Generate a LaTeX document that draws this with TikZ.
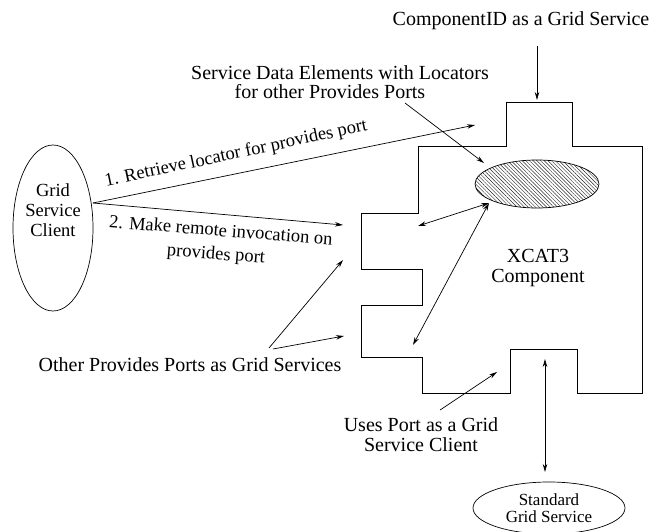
\documentclass[tikz,border=0pt]{standalone}
\usepackage{fontspec}
\setmainfont{Liberation Serif}
\usetikzlibrary{arrows.meta,patterns.meta,shapes.geometric}
\begin{document}
\begin{tikzpicture}[x=1pt,y=-1pt,
  conn/.style={line width=0.7pt, -{Stealth[length=8pt,width=4.5pt]}},
  dconn/.style={line width=0.7pt, {Stealth[length=8pt,width=4.5pt]}-{Stealth[length=8pt,width=4.5pt]}},
  lbl/.style={inner sep=0pt, font=\fontsize{20}{20}\selectfont, align=center},
  slbl/.style={inner sep=0pt, font=\fontsize{18.5}{24}\selectfont, align=center},
  outline/.style={line width=1pt, line join=miter},
  oval/.style={draw, ellipse, line width=0.7pt, inner sep=0pt},
]
\useasboundingbox (0,0) rectangle (651,532);

% component outline
\draw[outline] (506,147) -- (506,103) -- (572,103) -- (572,147) -- (642,147)
  -- (642,393) -- (577,393) -- (577,349) -- (510,349) -- (510,393) -- (422,393)
  -- (422,357) -- (361,357) -- (361,305) -- (422,305) -- (422,269) -- (361,269)
  -- (361,213) -- (418,213) -- (418,147) -- cycle;

\node[lbl] (xcat) at (538,268) {XCAT3\\Component};

% hatched service data ellipse
\node[oval, minimum width=124pt, minimum height=48pt,
  pattern={Lines[angle=-45,distance=2.6pt,line width=0.45pt]}, pattern color=black!85] (sde) at (537,184) {};

% grid service client
\node[oval, minimum width=80pt, minimum height=166pt] (gsc) at (53,228) {};
\node[inner sep=0pt, font=\fontsize{18.5}{20}\selectfont, align=center] (gsct) at (53,210) {Grid\\Service\\Client};

% standard grid service
\node[oval, minimum width=152pt, minimum height=52pt, font=\fontsize{17}{16.5}\selectfont, align=center] (std) at (549,508) {Standard\\Grid Service};

% texts
\node[lbl] (cid) at (521,21) {ComponentID as a Grid Service};
\node[lbl] (sde1) at (340,73) {Service Data Elements with Locators};
\node[lbl] (sde2) at (330,92) {for other Provides Ports};
\node[lbl] (opp) at (190,365) {Other Provides Ports as Grid Services};
\node[lbl] (uses) at (421,435) {Uses Port as a Grid\\Service Client};
\node[slbl, rotate=12] (l1) at (236,154) {1. Retrieve locator for provides port};
\node[slbl, rotate=-4.5] (l2a) at (221,230) {2. Make remote invocation on};
\node[slbl, rotate=-4.5] (l2b) at (216,255) {provides port};

% coordinates
\coordinate (gscp) at (93,203);
\coordinate (tip1) at (475,125);
\coordinate (tip2) at (343,225);
\coordinate (cidA) at (537,46);
\coordinate (cidB) at (537,100);
\coordinate (sdeA) at (405,103);
\coordinate (sdeB) at (484,163);
\coordinate (eA) at (489,203);
\coordinate (eB) at (418,226);
\coordinate (eC) at (413,345);
\coordinate (oA) at (269,348);
\coordinate (oB) at (343,260);
\coordinate (oC) at (273,349);
\coordinate (oD) at (344,336);
\coordinate (uA) at (440,410);
\coordinate (uB) at (497,372);
\coordinate (sA) at (545,359);
\coordinate (sB) at (545,472);

% connectors
\draw[conn] (gscp) -- (tip1);
\draw[conn] (gscp) -- (tip2);
\draw[conn] (cidA) -- (cidB);
\draw[conn] (sdeA) -- (sdeB);
\draw[dconn] (eA) -- (eB);
\draw[dconn] (eA) -- (eC);
\draw[conn] (oA) -- (oB);
\draw[conn] (oC) -- (oD);
\draw[conn] (uA) -- (uB);
\draw[dconn] (sA) -- (sB);
\end{tikzpicture}
\end{document}
